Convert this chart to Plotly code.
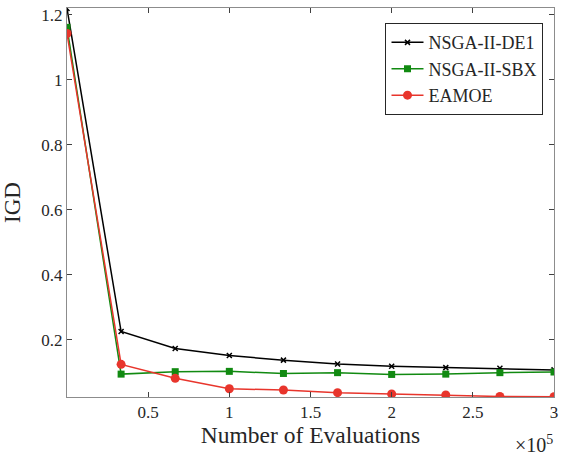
import plotly.graph_objects as go

evals = [0, 33333, 66667, 100000, 133333, 166667, 200000, 233333, 266667, 300000]
de1 = [1.22, 0.226, 0.174, 0.152, 0.138, 0.126, 0.119, 0.115, 0.113, 0.108]
sbx = [1.162, 0.095, 0.1025, 0.1035, 0.097, 0.0995, 0.094, 0.095, 0.0995, 0.1015]
eamoe = [1.143, 0.125, 0.082, 0.050, 0.046, 0.038, 0.034, 0.031, 0.026, 0.0255]
xtick_vals = [50000, 100000, 150000, 200000, 250000, 300000]
xtick_text = ["0.5", "1", "1.5", "2", "2.5", "3"]
ytick_vals = [0.2, 0.4, 0.6, 0.8, 1.0, 1.2]
ytick_text = ["0.2", "0.4", "0.6", "0.8", "1", "1.2"]

FONT = "Liberation Serif"
TXT = "#262626"

fig = go.Figure()
fig.add_trace(go.Scatter(x=evals, y=de1, name="NSGA-II-DE1", mode="lines+markers",
                         line=dict(color="black", width=1.5),
                         marker=dict(symbol="x-thin", size=5, color="black",
                                     line=dict(color="black", width=1.5))))
fig.add_trace(go.Scatter(x=evals, y=sbx, name="NSGA-II-SBX", mode="lines+markers",
                         line=dict(color="#118a11", width=1.5),
                         marker=dict(symbol="square", size=7, color="#118a11")))
fig.add_trace(go.Scatter(x=evals, y=eamoe, name="EAMOE", mode="lines+markers",
                         line=dict(color="#e8352c", width=1.5),
                         marker=dict(symbol="circle", size=9, color="#e8352c")))

axis_common = dict(showline=True, linecolor="#8c8c8c", linewidth=1, mirror="ticks",
                   ticks="inside", ticklen=5, tickcolor="#404040", showgrid=False,
                   zeroline=False, ticklabeloverflow="allow",
                   tickfont=dict(family=FONT, size=17, color=TXT))

fig.update_xaxes(range=[0, 300000], tickvals=xtick_vals, ticktext=xtick_text,
                 title=dict(text="Number of Evaluations", font=dict(family=FONT, size=23.5, color=TXT),
                            standoff=2),
                 **axis_common)
fig.update_yaxes(range=[0.0246, 1.2215], tickvals=ytick_vals, ticktext=ytick_text,
                 title=dict(text="IGD", font=dict(family=FONT, size=23, color=TXT), standoff=16),
                 **axis_common)

fig.add_annotation(text="×10<sup>5</sup>", xref="paper", yref="paper", x=1.003, y=-0.084,
                   xanchor="right", yanchor="top", showarrow=False,
                   font=dict(family=FONT, size=20, color=TXT))

fig.update_layout(
    width=561, height=456,
    margin=dict(l=67, r=3, t=8, b=59),
    plot_bgcolor="white", paper_bgcolor="white",
    font=dict(family=FONT, color=TXT),
    legend=dict(x=0.654, y=0.961, xanchor="left", yanchor="top",
                bordercolor=TXT, borderwidth=1, bgcolor="white",
                font=dict(family=FONT, size=18, color=TXT),
                tracegroupgap=0, itemwidth=32),
    showlegend=True,
)

fig.write_html("out.html", config={"displayModeBar": False},
               post_script="document.body.style.margin='0';document.body.style.overflow='hidden';")
